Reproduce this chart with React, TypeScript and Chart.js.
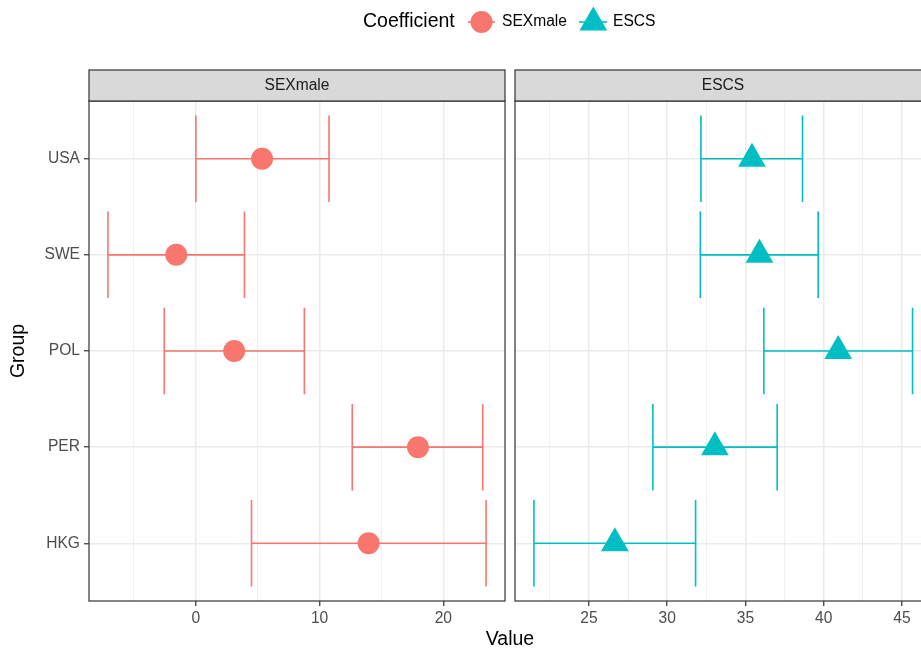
import React, { useEffect, useRef } from 'react';
import { Chart, registerables } from 'chart.js';

Chart.register(...registerables);

// ---------- data ----------
const groups = ['HKG', 'PER', 'POL', 'SWE', 'USA']; // bottom to top
const groupPositions = [1, 2, 3, 4, 5];

const sexEstimate = [13.96, 17.95, 3.1, -1.58, 5.35];
const sexLower = [4.5, 12.64, -2.55, -7.1, 0.0];
const sexUpper = [23.45, 23.18, 8.77, 3.93, 10.76];

const escsEstimate = [26.66, 33.05, 40.93, 35.9, 35.42];
const escsLower = [21.49, 29.09, 36.18, 32.12, 32.16];
const escsUpper = [31.82, 37.03, 45.68, 39.65, 38.65];

const sexGridTicks = [-5, 0, 5, 10, 15, 20];
const sexTickLabels = [0, 10, 20];
const escsGridTicks = [22.5, 25, 27.5, 30, 32.5, 35, 37.5, 40, 42.5, 45];
const escsTickLabels = [25, 30, 35, 40, 45];

const panelTitles = ['SEXmale', 'ESCS'];
const legendTitle = 'Coefficient';
const xTitle = 'Value';
const yTitle = 'Group';

// ---------- style ----------
const FONT = "'Liberation Sans', Arial, Helvetica, sans-serif";
const RED = '#F8766D';
const TEAL = '#00BFC4';
const GRID = '#EBEBEB';
const DARK = '#333333';
const W = 921;
const H = 650;
const PANEL_TOP = 101;
const PANEL_BOTTOM_SPACE = 49;
const LEFT_PANEL_LEFT = 89;
const LEFT_PANEL_RIGHT = 505;
const RIGHT_PANEL_LEFT = 515;
const PANEL_WIDTH = LEFT_PANEL_RIGHT - LEFT_PANEL_LEFT;
const CAP = 0.45;

function errorBarPoints(lower: number[], upper: number[]) {
  const pts: { x: number | null; y: number | null }[] = [];
  lower.forEach((lo, i) => {
    const y = groupPositions[i];
    const hi = upper[i];
    pts.push({ x: lo, y }, { x: hi, y }, { x: null, y: null });
    pts.push({ x: lo, y: y - CAP }, { x: lo, y: y + CAP }, { x: null, y: null });
    pts.push({ x: hi, y: y - CAP }, { x: hi, y: y + CAP }, { x: null, y: null });
  });
  return pts;
}

function pointData(est: number[]) {
  return est.map((v, i) => ({ x: v, y: groupPositions[i] }));
}

function panelPlugin(title: string, openRight: boolean) {
  return {
    id: 'panelDeco',
    afterDraw(chart: any) {
      const { ctx, chartArea: a } = chart;
      const right = openRight ? a.left + PANEL_WIDTH : a.right;
      ctx.save();
      ctx.strokeStyle = DARK;
      ctx.lineWidth = 1.2;
      ctx.strokeRect(a.left, a.top, right - a.left, a.bottom - a.top);
      const stripTop = a.top - 31;
      ctx.fillStyle = '#D9D9D9';
      ctx.fillRect(a.left, stripTop, right - a.left, 31);
      ctx.strokeRect(a.left, stripTop, right - a.left, 31);
      ctx.fillStyle = '#1A1A1A';
      ctx.font = `15.6px ${FONT}`;
      ctx.textAlign = 'center';
      ctx.textBaseline = 'middle';
      ctx.fillText(title, a.left + PANEL_WIDTH / 2, stripTop + 16);
      ctx.restore();
    },
  };
}

const figurePlugin = {
  id: 'figureDeco',
  afterDraw(chart: any) {
    const { ctx } = chart;
    ctx.save();
    // axis titles
    ctx.fillStyle = '#000000';
    ctx.font = `19.5px ${FONT}`;
    ctx.textAlign = 'center';
    ctx.textBaseline = 'middle';
    ctx.fillText(xTitle, 510, 640);
    ctx.save();
    ctx.translate(19, 351);
    ctx.rotate(-Math.PI / 2);
    ctx.fillText(yTitle, 0, 0);
    ctx.restore();

    // legend
    const ly = 22;
    ctx.textAlign = 'left';
    ctx.fillText(legendTitle, 363, ly);
    // circle key
    ctx.strokeStyle = RED;
    ctx.lineWidth = 1.6;
    ctx.beginPath();
    ctx.moveTo(468, ly);
    ctx.lineTo(495, ly);
    ctx.stroke();
    ctx.fillStyle = RED;
    ctx.beginPath();
    ctx.arc(481.5, ly, 11, 0, Math.PI * 2);
    ctx.fill();
    // triangle key
    ctx.strokeStyle = TEAL;
    ctx.beginPath();
    ctx.moveTo(579, ly);
    ctx.lineTo(607, ly);
    ctx.stroke();
    ctx.fillStyle = TEAL;
    const r = 16;
    const tx = 593.3;
    const tyc = ly + 0.5;
    ctx.beginPath();
    ctx.moveTo(tx, tyc - r);
    ctx.lineTo(tx + r * Math.sin((2 * Math.PI) / 3), tyc + r / 2);
    ctx.lineTo(tx - r * Math.sin((2 * Math.PI) / 3), tyc + r / 2);
    ctx.closePath();
    ctx.fill();
    ctx.fillStyle = '#000000';
    ctx.font = `15.6px ${FONT}`;
    ctx.fillText(panelTitles[0], 502, ly);
    ctx.fillText(panelTitles[1], 613, ly);
    ctx.restore();
  },
};

function xScale(min: number, max: number, gridTicks: number[], labels: number[]) {
  const isMajor = (v: number) => labels.includes(v);
  return {
    type: 'linear',
    min,
    max,
    afterBuildTicks: (s: any) => {
      s.ticks = gridTicks.map((v) => ({ value: v }));
    },
    afterFit: (s: any) => {
      s.height = PANEL_BOTTOM_SPACE;
    },
    border: { display: false },
    grid: {
      color: GRID,
      lineWidth: (c: any) => (c.tick && isMajor(c.tick.value) ? 1.5 : 0.8),
      drawTicks: true,
      tickLength: 5,
      tickWidth: 1.2,
      tickColor: (c: any) => (c.tick && isMajor(c.tick.value) ? DARK : 'rgba(0,0,0,0)'),
    },
    ticks: {
      autoSkip: false,
      maxRotation: 0,
      padding: 3,
      color: '#4D4D4D',
      font: { family: FONT, size: 15.6 },
      callback: (v: number) => (isMajor(v) ? String(v) : ''),
    },
  };
}

function yScale(showLabels: boolean) {
  return {
    type: 'linear',
    min: 0.4,
    max: 5.6,
    afterBuildTicks: (s: any) => {
      s.ticks = groupPositions.map((v) => ({ value: v }));
    },
    afterFit: (s: any) => {
      s.width = showLabels ? LEFT_PANEL_LEFT : 0;
    },
    border: { display: false },
    grid: {
      color: GRID,
      lineWidth: 1.5,
      drawTicks: showLabels,
      tickLength: 5,
      tickWidth: 1.2,
      tickColor: DARK,
    },
    ticks: {
      display: showLabels,
      padding: 4,
      color: '#4D4D4D',
      font: { family: FONT, size: 15.6 },
      callback: (v: number) => groups[groupPositions.indexOf(v)] ?? '',
    },
  };
}

export default function App() {
  const leftRef = useRef<HTMLCanvasElement>(null);
  const rightRef = useRef<HTMLCanvasElement>(null);

  useEffect(() => {
    const common = {
      animation: false,
      responsive: false,
      events: [],
      plugins: { legend: { display: false }, tooltip: { enabled: false } },
    };

    const left = new Chart(leftRef.current as HTMLCanvasElement, {
      type: 'scatter',
      data: {
        datasets: [
          {
            data: pointData(sexEstimate),
            pointStyle: 'circle',
            pointRadius: 11,
            pointBorderWidth: 0,
            backgroundColor: RED,
            borderColor: RED,
            showLine: false,
          },
          {
            data: errorBarPoints(sexLower, sexUpper),
            showLine: true,
            pointRadius: 0,
            borderColor: RED,
            borderWidth: 1.6,
            spanGaps: false,
          },
        ],
      },
      options: {
        ...common,
        layout: {
          autoPadding: false,
          padding: { left: 0, top: PANEL_TOP, right: W - LEFT_PANEL_RIGHT, bottom: 0 },
        },
        scales: {
          x: xScale(-8.63, 24.98, sexGridTicks, sexTickLabels),
          y: yScale(true),
        },
      } as any,
      plugins: [panelPlugin(panelTitles[0], false), figurePlugin],
    });

    const right = new Chart(rightRef.current as HTMLCanvasElement, {
      type: 'scatter',
      data: {
        datasets: [
          {
            data: pointData(escsEstimate),
            pointStyle: 'triangle',
            pointRadius: 16,
            pointBorderWidth: 0,
            backgroundColor: TEAL,
            borderColor: TEAL,
            showLine: false,
          },
          {
            data: errorBarPoints(escsLower, escsUpper),
            showLine: true,
            pointRadius: 0,
            borderColor: TEAL,
            borderWidth: 1.6,
            spanGaps: false,
          },
        ],
      },
      options: {
        ...common,
        layout: {
          autoPadding: false,
          padding: { left: RIGHT_PANEL_LEFT, top: PANEL_TOP, right: 0, bottom: 0 },
        },
        scales: {
          x: xScale(20.28, 46.22, escsGridTicks, escsTickLabels),
          y: yScale(false),
        },
      } as any,
      plugins: [panelPlugin(panelTitles[1], true)],
    });

    return () => {
      left.destroy();
      right.destroy();
    };
  }, []);

  return (
    <div style={{ position: 'absolute', left: 0, top: 0, width: W, height: H, background: '#ffffff' }}>
      <canvas ref={leftRef} width={W} height={H} style={{ position: 'absolute', left: 0, top: 0 }} />
      <canvas ref={rightRef} width={W} height={H} style={{ position: 'absolute', left: 0, top: 0 }} />
    </div>
  );
}
